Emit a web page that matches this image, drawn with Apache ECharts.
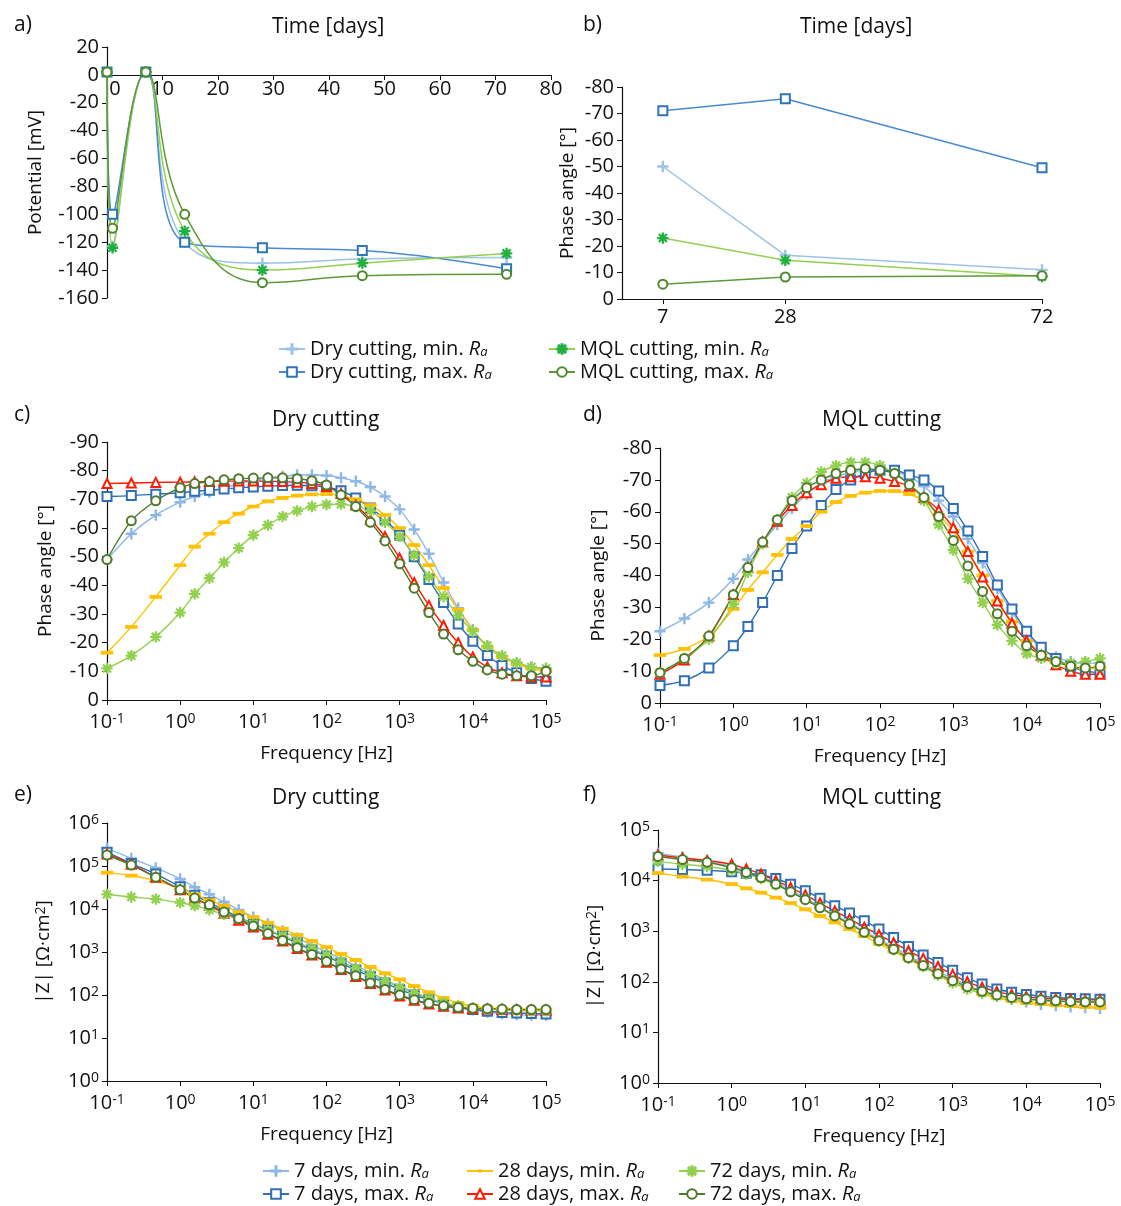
<!DOCTYPE html>
<html>
<head>
<meta charset="utf-8">
<script src="https://cdn.jsdelivr.net/npm/echarts@6/dist/echarts.min.js"></script>
<style>
  html, body { margin: 0; padding: 0; background: #fff; }
  #chart-container { width: 1121px; height: 1206px; }
</style>
</head>
<body>
<div id="chart-container"></div>
<script>
var dom = document.getElementById("chart-container");
var myChart = echarts.init(dom, null, { renderer: "canvas" });

// ---- panel a: open circuit potential vs time ----
var daysA = [0, 1, 7, 14, 28, 46, 72];
var potDryMin = [2, -123, 2, -120, -135, -132, -131];
var potDryMax = [2, -100, 2, -120, -124, -126, -139];
var potMqlMin = [2, -124, 2, -112, -140, -135, -128];
var potMqlMax = [2, -110, 2, -100, -149, -144, -143];

// ---- panel b: phase angle vs time ----
var daysB = [7, 28, 72];
var phDryMin = [-50, -16.5, -11];
var phDryMax = [-71, -75.6, -49.5];
var phMqlMin = [-23, -14.6, -8.5];
var phMqlMax = [-5.6, -8.3, -8.8];

// ---- panels c-f: Bode data ----
var freq = [0.1, 0.215, 0.464, 1, 1.58, 2.51, 3.98, 6.31, 10, 15.8, 25.1, 39.8, 63.1, 100, 158, 251,
  398, 631, 1000, 1580, 2510, 3980, 6310, 10000, 15800, 25100, 39800, 63100, 100000];

var phaseDry = {
  d7min: [49, 58, 64.5, 69, 71, 72.5, 74, 75.5, 76.5, 77.5, 78, 78.5, 78.5, 78.3, 77.5, 76.3, 74.3, 71, 66.5, 59.5, 51, 41, 32, 24.5, 18.5, 15, 13, 11.5, 11],
  d7max: [71, 71.3, 71.8, 72.3, 72.8, 73.2, 73.6, 74, 74.3, 74.6, 74.8, 74.9, 74.7, 74.2, 73, 70.5, 67, 63, 57.5, 50, 42, 34, 26.5, 20.5, 15.5, 12, 9.5, 7.5, 6.5],
  d28min: [16.5, 25.5, 36, 47, 53.5, 58, 62, 65, 67.5, 69.3, 70.5, 71.3, 71.7, 71.8, 71.3, 70, 68, 64.5, 60, 54, 47, 39, 31.5, 24.5, 18.5, 15, 12.5, 11, 10],
  d28max: [75.5, 75.7, 75.9, 76, 76.1, 76.2, 76.3, 76.4, 76.4, 76.3, 76.2, 76, 75.5, 74.5, 72, 68, 63, 57, 49.5, 41, 33, 26, 20, 15, 11.5, 9.5, 8.5, 8, 8],
  d72min: [11, 15.5, 22, 30.5, 37, 42.5, 48, 53, 57.5, 61, 64, 66, 67.5, 68.2, 68.3, 67.5, 66, 62, 57, 50.5, 43, 36, 29.5, 24, 19, 15.5, 13, 11.5, 11],
  d72max: [49, 62.5, 69.5, 74, 75.5, 76.2, 76.8, 77.2, 77.4, 77.5, 77.5, 77.2, 76.5, 75, 71.5, 67.5, 62, 55.5, 47.5, 39, 30.5, 23, 17.5, 13.5, 10.5, 9, 8.5, 8.5, 10]
};
var phaseMql = {
  d7min: [22.5, 26.5, 31.5, 39, 45, 50.5, 56, 61, 65.5, 69, 71, 72.3, 73, 73, 72.5, 71, 68, 63.5, 58.5, 51.5, 44, 36, 28.5, 22, 17, 14.5, 13, 12.5, 12.5],
  d7max: [5.5, 7, 11, 18, 24, 31.5, 40, 48.5, 55.5, 62, 67, 70, 72, 73, 73, 71.5, 70, 66.5, 61, 54, 46, 37, 29.5, 22.5, 17.5, 14, 11.5, 10, 9.5],
  d28min: [15, 17, 21, 29.5, 35.5, 41, 46.5, 51.5, 55.5, 60, 63, 65, 66, 66.5, 66.5, 65.5, 63.5, 59, 54, 47.5, 40, 32, 25.5, 19.5, 15.5, 13, 11.5, 11, 11],
  d28max: [9, 13.5, 21, 34, 42.5, 50.5, 57, 62, 66, 68.5, 70.5, 71, 71, 70.5, 69.5, 68, 64.5, 60.5, 55, 47.5, 39.5, 32, 25, 19.5, 15, 12, 10, 9, 9],
  d72min: [9.5, 14, 20, 31, 41, 50, 57.5, 64.5, 69, 72.5, 74.5, 75.5, 75.5, 74.5, 72, 68.5, 63.5, 56, 48, 39, 31.5, 24.5, 19.5, 15.5, 14, 12.5, 12.5, 13, 14],
  d72max: [9.5, 14, 21, 34, 42.5, 50.5, 57.5, 63.5, 67.5, 70, 72, 73, 73.5, 73, 72, 68.5, 64.5, 58.5, 51, 43, 35, 28, 22.5, 18, 15, 13, 11.5, 11, 11.5]
};
var zDry = {
  d7min: [2.6e5, 1.5e5, 9e4, 5e4, 3.2e4, 2.2e4, 1.45e4, 9.5e3, 6.5e3, 4.5e3, 3.1e3, 2.1e3, 1.45e3, 1e3, 700, 480, 330, 230, 160, 115, 85, 65, 52, 45, 40, 37, 35, 34, 34],
  d7max: [2.1e5, 1.15e5, 6.5e4, 3.3e4, 2.1e4, 1.4e4, 9.5e3, 6.5e3, 4.5e3, 3.2e3, 2.3e3, 1.6e3, 1.1e3, 800, 550, 380, 270, 190, 135, 100, 78, 63, 52, 46, 42, 39, 38, 37, 36],
  d28min: [7e4, 6e4, 4.5e4, 3e4, 2.2e4, 1.6e4, 1.2e4, 8.5e3, 6.5e3, 4.8e3, 3.5e3, 2.5e3, 1.8e3, 1.3e3, 900, 650, 450, 320, 230, 160, 115, 85, 65, 55, 50, 48, 47, 46, 46],
  d28max: [1.9e5, 1.1e5, 5.5e4, 2.8e4, 1.8e4, 1.2e4, 8e3, 5.5e3, 3.8e3, 2.6e3, 1.8e3, 1.2e3, 850, 580, 390, 270, 185, 130, 95, 75, 62, 55, 50, 48, 47, 46, 46, 45, 45],
  d72min: [2.2e4, 1.9e4, 1.7e4, 1.4e4, 1.2e4, 9.5e3, 7.5e3, 6e3, 4.5e3, 3.3e3, 2.4e3, 1.7e3, 1.2e3, 850, 600, 420, 300, 210, 150, 110, 82, 66, 56, 50, 47, 45, 44, 43, 43],
  d72max: [1.8e5, 1.05e5, 5.5e4, 2.8e4, 1.8e4, 1.25e4, 8.5e3, 6e3, 4e3, 2.7e3, 1.85e3, 1.25e3, 870, 600, 400, 280, 190, 135, 100, 78, 64, 56, 51, 49, 48, 47, 46, 46, 46]
};
var zMql = {
  d7min: [3.5e4, 2.9e4, 2.4e4, 1.9e4, 1.5e4, 1.2e4, 9e3, 6.5e3, 4.5e3, 3e3, 2.1e3, 1.45e3, 1e3, 700, 480, 330, 230, 160, 115, 85, 65, 52, 45, 40, 36, 34, 32, 31, 30],
  d7max: [1.7e4, 1.65e4, 1.6e4, 1.5e4, 1.4e4, 1.3e4, 1.1e4, 8.5e3, 6.3e3, 4.5e3, 3.2e3, 2.3e3, 1.6e3, 1.1e3, 750, 500, 340, 240, 170, 120, 90, 72, 62, 56, 52, 49, 47, 46, 45],
  d28min: [1.4e4, 1.2e4, 1.05e4, 8.5e3, 7e3, 5.8e3, 4.6e3, 3.6e3, 2.7e3, 2e3, 1.5e3, 1.1e3, 800, 560, 400, 280, 200, 140, 100, 75, 58, 48, 42, 38, 36, 34, 33, 32, 31],
  d28max: [3.2e4, 2.8e4, 2.5e4, 2.1e4, 1.7e4, 1.35e4, 1e4, 7.3e3, 5.2e3, 3.6e3, 2.5e3, 1.75e3, 1.2e3, 850, 590, 410, 290, 200, 140, 100, 78, 64, 56, 51, 48, 46, 45, 44, 44],
  d72min: [2.4e4, 2.1e4, 1.9e4, 1.6e4, 1.35e4, 1.1e4, 8.2e3, 6e3, 4.3e3, 3e3, 2.05e3, 1.4e3, 950, 640, 430, 290, 200, 135, 95, 72, 60, 52, 47, 44, 42, 41, 40, 40, 40],
  d72max: [3e4, 2.6e4, 2.3e4, 1.8e4, 1.45e4, 1.15e4, 8.5e3, 6e3, 4.2e3, 2.9e3, 2e3, 1.4e3, 950, 650, 440, 300, 210, 145, 105, 80, 65, 55, 49, 46, 44, 42, 41, 40, 40]
};

var FONT = "Open Sans";
var PLUS = "path://M-1,-0.11H1V0.11H-1Z M-0.11,-1H0.11V1H-0.11Z";
var STAR = "path://M-1,-0.1H1V0.1H-1Z M-0.1,-1H0.1V1H-0.1Z M-0.78,-0.64L-0.64,-0.78L0.78,0.64L0.64,0.78Z M0.64,-0.78L0.78,-0.64L-0.64,0.78L-0.78,0.64Z";

// bode series styles: key, legend name, colour, symbol, size
var bodeKeys = [
  ["d7min", "7 days, min. Ra", "#8DB8E6", PLUS, 10],
  ["d7max", "7 days, max. Ra", "#2E6FB5", "emptyRect", 9],
  ["d28min", "28 days, min. Ra", "#FFC000", "rect", [10, 3]],
  ["d28max", "28 days, max. Ra", "#FF1A00", "emptyTriangle", 9],
  ["d72min", "72 days, min. Ra", "#92D050", STAR, 10],
  ["d72max", "72 days, max. Ra", "#4E7A2A", "emptyCircle", 9]
];
var timeKeys = [
  ["Dry cutting, min. Ra", "#9DC3E6", "#9DC3E6", PLUS, 10, potDryMin, phDryMin],
  ["Dry cutting, max. Ra", "#4A8AD0", "#2E75B6", "emptyRect", 9, potDryMax, phDryMax],
  ["MQL cutting, min. Ra", "#92D050", "#20B040", STAR, 10, potMqlMin, phMqlMin],
  ["MQL cutting, max. Ra", "#5F9A3A", "#4E8A2A", "emptyCircle", 9, potMqlMax, phMqlMax]
];

var lbl = { color: "#111", fontSize: 20, fontFamily: FONT };
var nameStyle = { color: "#111", fontSize: 19, fontFamily: FONT };
var axisLine = { show: true, onZero: false, lineStyle: { color: "#111", width: 1.2 } };
var tick = { show: true, length: 5, lineStyle: { color: "#111" } };

function supLabel(v) {
  return "10{s|" + Math.round(Math.log10(v)) + "}";
}
var supRich = { s: { fontSize: 14, fontFamily: FONT, color: "#111", verticalAlign: "top", lineHeight: 10 } };

var grids = [
  { left: 107, right: 570, top: 47, bottom: 908 },
  { left: 622, right: 79, top: 87, bottom: 907 },
  { left: 107, right: 575, top: 442, bottom: 506 },
  { left: 660, right: 21, top: 448, bottom: 503 },
  { left: 107, right: 575, top: 823, bottom: 125 },
  { left: 658, right: 21, top: 830, bottom: 123 }
];

var xAxes = [
  { gridIndex: 0, type: "value", min: 0, max: 80, interval: 10, position: "bottom", offset: -223,
    axisLine: axisLine, axisTick: tick, splitLine: { show: false },
    axisLabel: Object.assign({ margin: 4,
      formatter: function (v) { return v === 0 ? "{z|0}" : String(v); },
      rich: { z: { fontSize: 20, fontFamily: FONT, color: "#111", padding: [0, 0, 0, 16] } } }, lbl) },
  { gridIndex: 1, type: "value", min: 0, max: 72,
    axisLine: axisLine, splitLine: { show: false },
    axisTick: { show: true, length: 5, lineStyle: { color: "#111" }, customValues: daysB },
    axisLabel: Object.assign({ customValues: daysB }, lbl) }
];
var yAxes = [
  { gridIndex: 0, type: "value", min: -160, max: 20, interval: 20, name: "Potential [mV]",
    nameLocation: "middle", nameGap: 62, nameTextStyle: nameStyle,
    axisLine: axisLine, axisTick: tick, splitLine: { show: false }, axisLabel: lbl },
  { gridIndex: 1, type: "value", min: -80, max: 0, interval: 10, inverse: true, name: "Phase angle [°]",
    nameLocation: "middle", nameGap: 45, nameTextStyle: nameStyle,
    axisLine: axisLine, axisTick: tick, splitLine: { show: false }, axisLabel: lbl }
];
[2, 3, 4, 5].forEach(function (g) {
  xAxes.push({ gridIndex: g, type: "log", logBase: 10, min: 0.1, max: 100000,
    name: "Frequency [Hz]", nameLocation: "middle", nameGap: 44, nameTextStyle: nameStyle,
    axisLine: axisLine, axisTick: tick, splitLine: { show: false }, minorTick: { show: false },
    axisLabel: Object.assign({ formatter: supLabel, rich: supRich, margin: 12 }, lbl) });
});
yAxes.push({ gridIndex: 2, type: "value", min: -90, max: 0, interval: 10, inverse: true, name: "Phase angle [°]",
  nameLocation: "middle", nameGap: 52, nameTextStyle: nameStyle,
  axisLine: axisLine, axisTick: tick, splitLine: { show: false }, axisLabel: lbl });
yAxes.push({ gridIndex: 3, type: "value", min: -80, max: 0, interval: 10, inverse: true, name: "Phase angle [°]",
  nameLocation: "middle", nameGap: 52, nameTextStyle: nameStyle,
  axisLine: axisLine, axisTick: tick, splitLine: { show: false }, axisLabel: lbl });
yAxes.push({ gridIndex: 4, type: "log", logBase: 10, min: 1, max: 1000000, name: "|Z| [Ω·cm{s|2}]",
  nameLocation: "middle", nameGap: 54, nameTextStyle: Object.assign({ rich: supRich }, nameStyle),
  axisLine: axisLine, axisTick: tick, splitLine: { show: false },
  axisLabel: Object.assign({ formatter: supLabel, rich: supRich }, lbl) });
yAxes.push({ gridIndex: 5, type: "log", logBase: 10, min: 1, max: 100000, name: "|Z| [Ω·cm{s|2}]",
  nameLocation: "middle", nameGap: 54, nameTextStyle: Object.assign({ rich: supRich }, nameStyle),
  axisLine: axisLine, axisTick: tick, splitLine: { show: false },
  axisLabel: Object.assign({ formatter: supLabel, rich: supRich }, lbl) });

var series = [];
timeKeys.forEach(function (k) {
  series.push({ name: k[0], type: "line", xAxisIndex: 0, yAxisIndex: 0, smooth: 0.45,
    symbol: k[3], symbolSize: k[4], lineStyle: { color: k[1], width: 1.5 },
    itemStyle: { color: k[2], borderColor: k[2], borderWidth: 1.3 },
    data: daysA.map(function (d, i) { return [d, k[5][i]]; }) });
  series.push({ name: k[0], type: "line", xAxisIndex: 1, yAxisIndex: 1,
    symbol: k[3], symbolSize: k[4], lineStyle: { color: k[1], width: 1.5 },
    itemStyle: { color: k[2], borderColor: k[2], borderWidth: 1.3 },
    data: daysB.map(function (d, i) { return [d, k[6][i]]; }) });
});
var bodeSets = [[phaseDry, 2, -1], [phaseMql, 3, -1], [zDry, 4, 1], [zMql, 5, 1]];
bodeSets.forEach(function (set) {
  bodeKeys.forEach(function (k) {
    var vals = set[0][k[0]];
    series.push({ name: k[1], type: "line", xAxisIndex: set[1], yAxisIndex: set[1], smooth: 0.3,
      symbol: k[3], symbolSize: k[4], lineStyle: { color: k[2], width: 1.4 },
      itemStyle: { color: k[2], borderColor: k[2], borderWidth: 1.3 },
      data: freq.map(function (f, i) { return [f, set[2] * vals[i]]; }) });
  });
});

var legRich = {
  i: { fontStyle: "italic", fontSize: 20, fontFamily: FONT, color: "#111" },
  s: { fontStyle: "italic", fontSize: 13, fontFamily: FONT, color: "#111", verticalAlign: "bottom", lineHeight: 14 }
};
function legendItem(name, left, top) {
  return { data: [name], left: left, top: top, itemWidth: 26, itemHeight: 12, padding: 0,
    formatter: function (n) { return n.replace(" Ra", " {i|R}{s|a}"); },
    textStyle: { fontSize: 20, fontFamily: FONT, color: "#111", rich: legRich } };
}
var legends = [
  legendItem(timeKeys[0][0], 278, 339), legendItem(timeKeys[1][0], 278, 362),
  legendItem(timeKeys[2][0], 548, 339), legendItem(timeKeys[3][0], 548, 362),
  legendItem(bodeKeys[0][1], 262, 1161), legendItem(bodeKeys[1][1], 262, 1184),
  legendItem(bodeKeys[2][1], 466, 1161), legendItem(bodeKeys[3][1], 466, 1184),
  legendItem(bodeKeys[4][1], 678, 1161), legendItem(bodeKeys[5][1], 678, 1184)
];
// dash marker for the 28 days, min. legend entries
legends[6].itemStyle = { borderWidth: 0 };
legends[6].itemHeight = 4;

function txt(s, x, y, align) {
  return { type: "text", left: x, top: y,
    style: { text: s, fontSize: 21, fontFamily: FONT, fill: "#111", textAlign: align || "left" } };
}

var option = {
  animation: false,
  grid: grids,
  xAxis: xAxes,
  yAxis: yAxes,
  legend: legends,
  series: series,
  graphic: { elements: [
    txt("a)", 14, 15), txt("b)", 583, 15), txt("c)", 14, 405), txt("d)", 583, 405),
    txt("e)", 14, 785), txt("f)", 583, 785),
    txt("Time [days]", 272, 17), txt("Time [days]", 800, 17),
    txt("Dry cutting", 272, 410), txt("MQL cutting", 822, 410),
    txt("Dry cutting", 272, 788), txt("MQL cutting", 822, 788)
  ] }
};

myChart.setOption(option);
window.addEventListener("resize", myChart.resize);
</script>
</body>
</html>
